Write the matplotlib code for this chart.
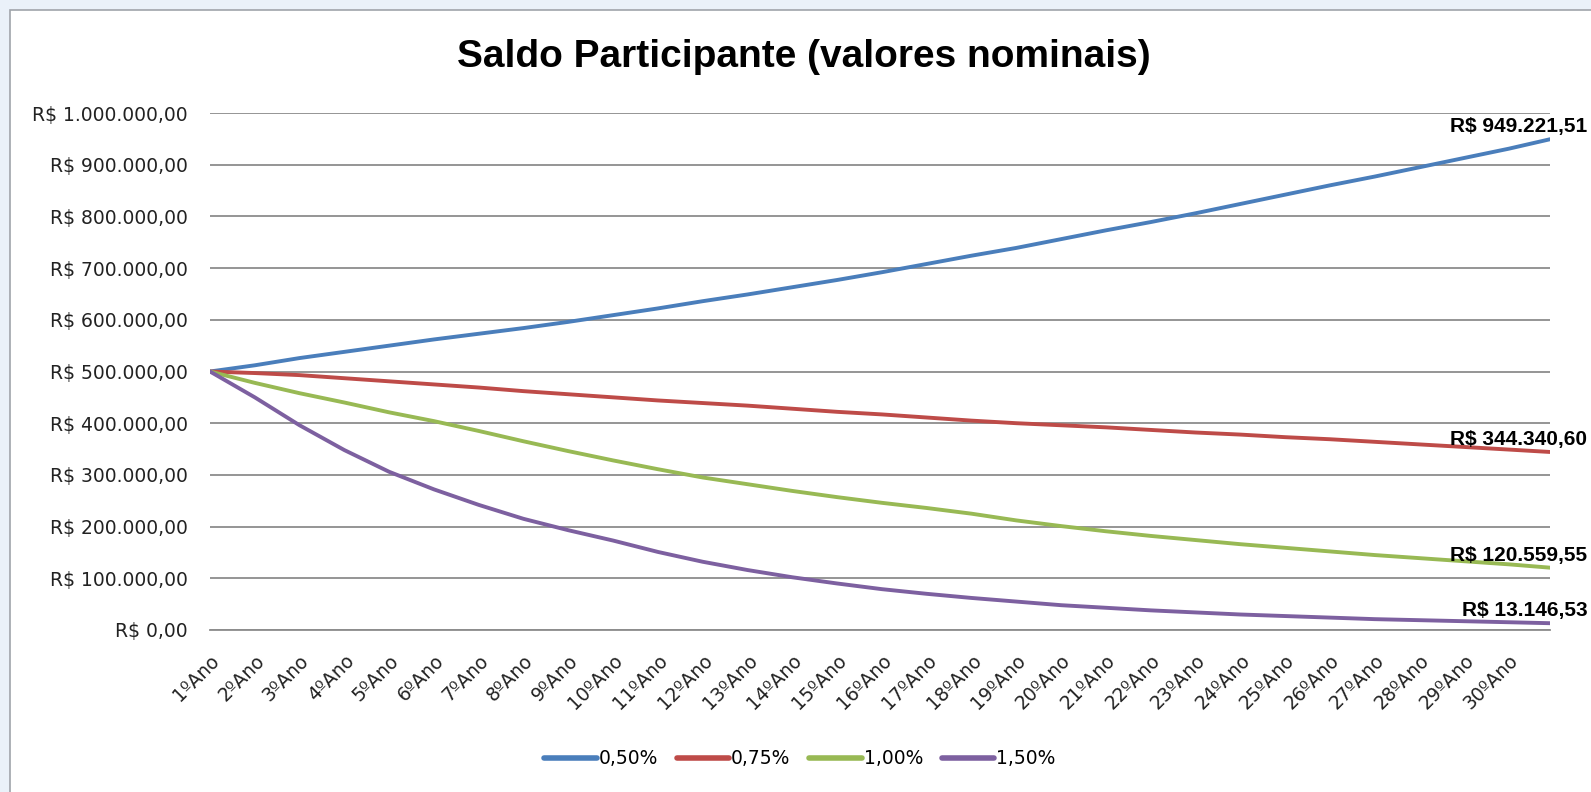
import matplotlib
matplotlib.use("Agg")
import matplotlib.pyplot as plt
from matplotlib.patches import Rectangle
from matplotlib.ticker import FuncFormatter, FixedLocator, MultipleLocator

# ---------------- data ----------------
title = "Saldo Participante (valores nominais)"
year_labels = [f"{i}ºAno" for i in range(1, 31)]
# month index of each sampled value: start of each year + final month
months = list(range(0, 360, 12)) + [359]

series_names = ["0,50%", "0,75%", "1,00%", "1,50%"]
saldo_050 = [500000, 512000, 526000, 538000, 550000, 562000, 573000, 584000,
             596000, 609000, 622000, 636000, 649000, 663000, 677000, 692000,
             708000, 724000, 739000, 756000, 773000, 789000, 806000, 824000,
             842000, 860000, 877000, 895000, 913000, 931000, 949221.51]
saldo_075 = [500000, 497000, 493000, 487000, 481000, 475000, 469000, 462000,
             456000, 450000, 444000, 439000, 434000, 428000, 422000, 417000,
             411000, 405000, 400000, 396000, 392000, 387000, 382000, 378000,
             373000, 369000, 364000, 359000, 354000, 349000, 344340.60]
saldo_100 = [500000, 478000, 458000, 440000, 421000, 404000, 385000, 365000,
             346000, 328000, 311000, 295000, 282000, 269000, 257000, 246000,
             236000, 225000, 212000, 201000, 191000, 182000, 174000, 166000,
             159000, 152000, 145000, 139000, 133000, 127000, 120559.55]
saldo_150 = [500000, 450000, 396000, 348000, 306000, 272000, 242000, 215000,
             193000, 173000, 151000, 132000, 116000, 102000, 90000, 79000,
             70000, 62000, 55000, 48000, 43000, 38000, 34000, 30000,
             27000, 24000, 21000, 19000, 17000, 15000, 13146.53]
series = [saldo_050, saldo_075, saldo_100, saldo_150]
colors = ["#4A7EBB", "#BE4B48", "#98B954", "#7D60A0"]


def brl(v, pos=None):
    s = f"{v:,.2f}"
    s = s.replace(",", "X").replace(".", ",").replace("X", ".")
    return "R$ " + s


W, H = 1591, 792
fig = plt.figure(figsize=(W / 100, H / 100), dpi=100)
fig.patch.set_facecolor("#eaf1f9")
fig.add_artist(Rectangle((10 / W, -0.1), 1.2, 1 - 10 / H + 0.1,
                         transform=fig.transFigure, facecolor="white",
                         edgecolor="#a0a4aa", linewidth=1.2, zorder=0))

ax = fig.add_axes([210 / W, 1 - 630 / H, (1550 - 210) / W, (630 - 113) / H])
ax.set_facecolor("none")

for name, vals, c in zip(series_names, series, colors):
    ax.plot(months, vals, color=c, lw=2.8, label=name,
            solid_capstyle="round", solid_joinstyle="round", zorder=3)
    ax.annotate(brl(vals[-1]), xy=(months[-1], vals[-1]),
                xytext=(27, 9), textcoords="offset points",
                ha="right", va="center", fontsize=15, fontweight="bold",
                family=["Liberation Sans Narrow", "Liberation Sans"],
                zorder=4, annotation_clip=False)

ax.set_xlim(0, 359)
ax.set_ylim(0, 1000000)
ax.yaxis.set_major_locator(MultipleLocator(100000))
ax.yaxis.set_major_formatter(FuncFormatter(brl))
ax.grid(axis="y", color="#8c8c8c", lw=1.3, zorder=1)
ax.xaxis.set_major_locator(FixedLocator(months[:-1]))
ax.set_xticklabels(year_labels, rotation=45, ha="right", va="top",
                   rotation_mode="anchor")
for s in ["top", "right", "left"]:
    ax.spines[s].set_visible(False)
ax.spines["bottom"].set_color("#8c8c8c")
ax.spines["bottom"].set_linewidth(1.3)
ax.tick_params(axis="y", length=0, pad=16, labelsize=13.5, labelcolor="#222222")
ax.tick_params(axis="x", length=0, pad=15, labelsize=13.5, labelcolor="#222222")

fig.text(0.505, 1 - 57 / H, title, ha="center", va="center",
         fontsize=28, fontweight="bold",
         family=["Liberation Sans Narrow", "Liberation Sans"])

leg = fig.legend(loc="center", bbox_to_anchor=(800 / W, 1 - 759 / H), ncol=4,
                 frameon=False, fontsize=13.5, handlelength=2.8,
                 handletextpad=0.1, columnspacing=1.0)
for l in leg.get_lines():
    l.set_linewidth(4)

fig.savefig("out.png", dpi=100, facecolor=fig.get_facecolor())
